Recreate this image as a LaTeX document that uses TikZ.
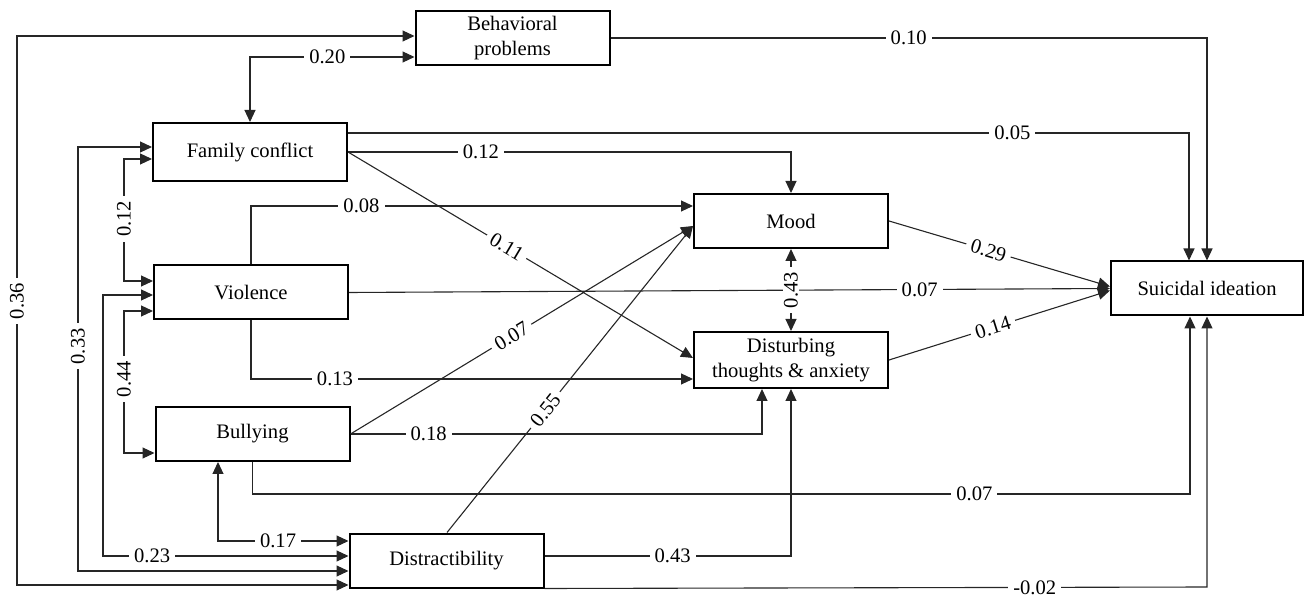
\documentclass[tikz,border=0pt]{standalone}
\usepackage{fontspec}
\setmainfont{Liberation Serif}
\usetikzlibrary{arrows.meta,calc}
\begin{document}
\begin{tikzpicture}[x=0.5pt,y=-0.5pt,
  box/.style={draw,line width=1pt,minimum width=97pt,minimum height=27pt,inner sep=0pt,align=center,font=\fontsize{10.3}{12.5}\selectfont},
  conn/.style={line width=0.55pt,draw=black!85},
  one/.style={conn,-{Triangle[length=6pt,width=5.5pt]}},
  bi/.style={conn,{Triangle[length=6pt,width=5.5pt]}-{Triangle[length=6pt,width=5.5pt]}},
  lbl/.style={fill=white,inner xsep=2.5pt,inner ysep=0.5pt,font=\fontsize{10.3}{12}\selectfont}]
\useasboundingbox (0,0) rectangle (1304,597);
% nodes
\node[box] (bp) at (512.5,38) {Behavioral\\problems};
\node[box,minimum height=29pt] (fc) at (250,152) {Family conflict};
\node[box] (vi) at (251,292.5) {Violence};
\node[box] (bu) at (252.5,434) {Bullying};
\node[box] (di) at (446.5,560.5) {Distractibility};
\node[box] (mo) at (791,221) {Mood};
\node[box,minimum height=28pt] (dt) at (791,360) {Disturbing\\thoughts \& anxiety};
\node[box,minimum width=96pt] (si) at (1207,288.5) {Suicidal ideation};
% correlations (left side)
\draw[bi] ($(di.west)+(0,24.5)$) -- (17,585) -- node[lbl,rotate=90,pos=0.517]{0.36} (17,36) -- ($(bp.west)+(0,-2)$);
\draw[bi] (fc.north) -- (250,57) -- node[lbl,pos=0.47]{0.20} ($(bp.west)+(0,19)$);
\draw[bi] ($(fc.west)+(0,-5)$) -- (78,147) -- node[lbl,rotate=90,pos=0.47]{0.33} (78,571) -- ($(di.west)+(0,10.5)$);
\draw[bi] ($(fc.west)+(0,7)$) -- (124,159) -- node[lbl,rotate=90,pos=0.49]{0.12} (124,281) -- ($(vi.west)+(0,-11.5)$);
\draw[bi] ($(vi.west)+(0,2.5)$) -- (103,295) -- (103,556) -- node[lbl,pos=0.2]{0.23} ($(di.west)+(0,-4.5)$);
\draw[bi] ($(vi.west)+(0,18.5)$) -- (124,311) -- node[lbl,rotate=90,pos=0.48]{0.44} (124,453) -- ($(bu.west)+(0,19)$);
\draw[bi] ($(bu.south)+(-34.5,0)$) -- (218,541) -- node[lbl,pos=0.46]{0.17} ($(di.west)+(0,-19.5)$);
% paths
\draw[one] (bp.east) -- node[lbl,pos=0.5]{0.10} (1207,38) -- (si.north);
\draw[one] ($(fc.east)+(0,-19)$) -- node[lbl,pos=0.79]{0.05} (1189,133) -- ($(si.north)+(-18,0)$);
\draw[one] (fc.east) -- node[lbl,pos=0.30]{0.12} (791,152) -- (mo.north);
\draw[one] (fc.east) -- node[lbl,sloped,pos=0.46]{0.11} ($(dt.west)+(0,-2)$);
\draw[one] (vi.north) -- (251,206) -- node[lbl,pos=0.25]{0.08} ($(mo.west)+(0,-15)$);
\draw[one] (vi.east) -- node[lbl,pos=0.75]{0.07} (si.west);
\draw[one] (vi.south) -- (251,379) -- node[lbl,pos=0.19]{0.13} ($(dt.west)+(0,19)$);
\draw[one] (bu.east) -- node[lbl,sloped,pos=0.47]{0.07} ($(mo.west)+(0,5)$);
\draw[one] (bu.east) -- node[lbl,pos=0.19]{0.18} (762,434) -- ($(dt.south)+(-29,0)$);
\draw[one] (bu.south) -- (252.5,494) -- node[lbl,pos=0.77]{0.07} (1190,494) -- ($(si.south)+(-17,0)$);
\draw[one] ($(di.north)+(0.5,0)$) -- node[lbl,sloped,pos=0.4]{0.55} ($(mo.west)+(0,5)$);
\draw[one] ($(di.east)+(0,-4.5)$) -- node[lbl,pos=0.52]{0.43} (791,556) -- (dt.south);
\draw[one] (di.south east) -- node[lbl,pos=0.74]{-0.02} (1207,587) -- (si.south);
\draw[bi] (mo.south) -- node[lbl,rotate=90,pos=0.5]{0.43} (dt.north);
\draw[one] (mo.east) -- node[lbl,sloped,pos=0.45]{0.29} ($(si.west)+(0,-2)$);
\draw[one] (dt.east) -- node[lbl,sloped,pos=0.47]{0.14} ($(si.west)+(0,2)$);
\end{tikzpicture}
\end{document}
